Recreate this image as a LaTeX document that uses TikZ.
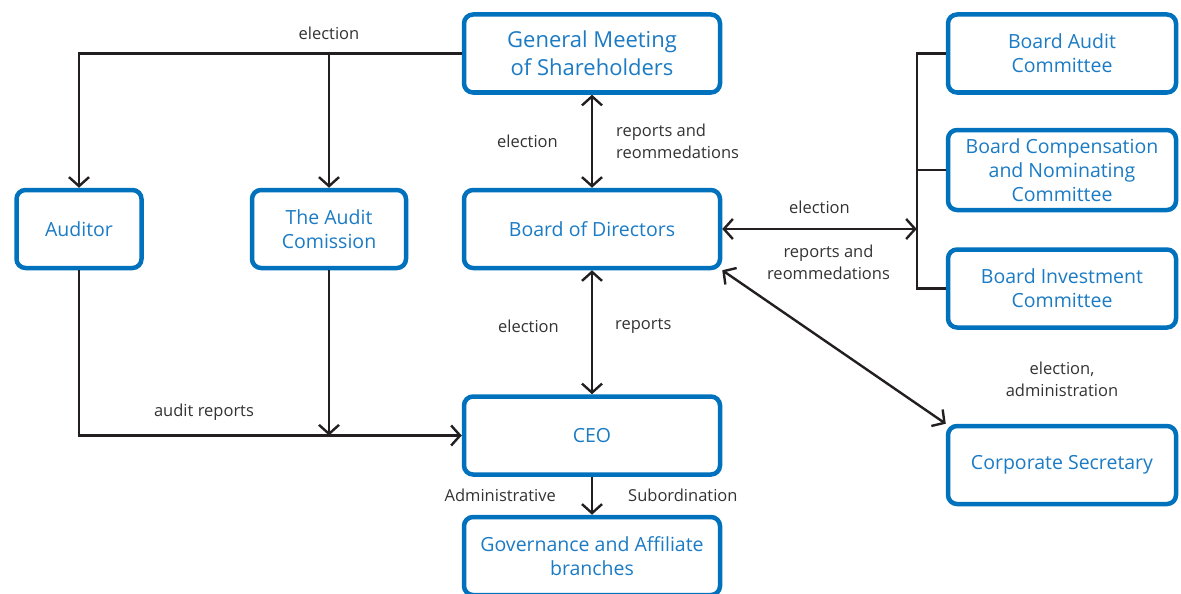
\documentclass[tikz,border=0pt]{standalone}
\usepackage{fontspec}
\setmainfont{Open Sans}
\usepackage{tikz}
\usetikzlibrary{arrows.meta,positioning,calc}
\definecolor{BoxBlue}{HTML}{0071BC}
\definecolor{TextBlue}{HTML}{1B7BC4}
\definecolor{LineBlack}{HTML}{231F20}
\definecolor{LabelGrey}{HTML}{333333}
\tikzset{
    % Base node style
    basenode/.style={
        draw=BoxBlue,
        fill=white,
        line width=4.5pt,
        rounded corners=9pt,
        align=center,
        text=TextBlue,
        font=\fontsize{19.5}{24}\selectfont,
        minimum height=78pt
    },
    % Centre column box
    mainbox/.style={
        basenode,
        minimum width=256pt
    },
    % Committee box
    sidebox/.style={
        basenode,
        minimum width=228pt
    },
    % Connector label
    labelnode/.style={
        text=LabelGrey,
        align=center,
        inner sep=0pt,
        font=\fontsize{16.5}{22}\selectfont
    },
    % Plain connector
    plainline/.style={
        line width=2.4pt,
        draw=LineBlack
    },
    % Arrow styles (straight lines only)
    myarrow/.style={
        plainline,
        -{Straight Barb[length=9pt,width=20pt,line width=2.4pt]}
    },
    % Bidirectional arrow
    biarrow/.style={
        plainline,
        {Straight Barb[length=9pt,width=20pt,line width=2.4pt]}-{Straight Barb[length=9pt,width=20pt,line width=2.4pt]}
    }
}
\begin{document}
\begin{tikzpicture}[x=1pt,y=-1pt]
        \useasboundingbox (0,0) rectangle (1181,594);

        % Centre column
        \node[mainbox, font=\fontsize{22}{28}\selectfont] (gms) at (592,53.5) {General Meeting\\of Shareholders};
        \node[mainbox] (bod) at (592,229) {Board of Directors};
        \node[mainbox] (ceo) at (592,435.5) {CEO};
        \node[mainbox] (gov) at (592,556) {Governance and Affiliate\\branches};

        % Left column
        \node[basenode, minimum width=125pt] (aud) at (79,229) {Auditor};
        \node[basenode, minimum width=154pt] (comm) at (329,229) {The Audit\\Comission};

        % Right column
        \node[sidebox] (bac) at (1062,53.5) {Board Audit\\Committee};
        \node[sidebox, minimum height=80pt] (bcn) at (1062,170) {Board Compensation\\and Nominating\\Committee};
        \node[sidebox] (bic) at (1062,288.5) {Board Investment\\Committee};
        \node[sidebox] (sec) at (1062,465) {Corporate Secretary};

        % Election from the general meeting
        \coordinate (split) at (comm.north |- gms.west);
        \draw[myarrow] (gms.west) -| (aud.north);
        \draw[myarrow] (split) -- (comm.north);
        \node[labelnode, above=14pt of split] (l1) {election};

        % Meeting and board
        \draw[biarrow] (gms.south) -- (bod.north);
        \coordinate (m1) at ($(gms.south)!0.5!(bod.north)$);
        \node[labelnode, left=34pt of m1] (l2) {election};
        \node[labelnode, right=24pt of m1, align=left] (l3) {reports and\\reommedations};

        % Committees
        \coordinate (br) at ($(bac.west)+(-29,0)$);
        \draw[plainline] (bac.west) -- (br) |- (bic.west);
        \draw[plainline] (bcn.west) -- (bcn.west -| br);
        \draw[biarrow] (bod.east) -- (bod.east -| br);
        \coordinate (m2) at ($(bod.east)!0.5!(bod.east -| br)$);
        \node[labelnode, above=15pt of m2] (l4) {election};
        \node[labelnode, below=16pt of m2, xshift=9pt] (l5) {reports and\\reommedations};

        % Corporate secretary
        \draw[biarrow] (bod.south east) -- (sec.north west);
        \node[labelnode, above=27pt of sec] (l6) {election,\\administration};

        % Board and CEO
        \draw[biarrow] (bod.south) -- (ceo.north);
        \coordinate (m3) at ($(bod.south)!0.5!(ceo.north)$);
        \node[labelnode, left=33pt of m3, yshift=6pt] (l7) {election};
        \node[labelnode, right=23pt of m3, yshift=6pt] (l8) {reports};

        % Audit reports
        \draw[myarrow] (aud.south) |- (ceo.west);
        \draw[myarrow] (comm.south) -- (comm.south |- ceo.west);
        \coordinate (m4) at ($(aud.south |- ceo.west)!0.5!(comm.south |- ceo.west)$);
        \node[labelnode, above=15pt of m4] (l9) {audit reports};

        % CEO and branches
        \draw[myarrow] (ceo.south) -- (gov.north);
        \coordinate (m5) at ($(ceo.south)!0.5!(gov.north)$);
        \node[labelnode, left=36pt of m5] (l10) {Administrative};
        \node[labelnode, right=36pt of m5] (l11) {Subordination};
    \end{tikzpicture}
\end{document}
